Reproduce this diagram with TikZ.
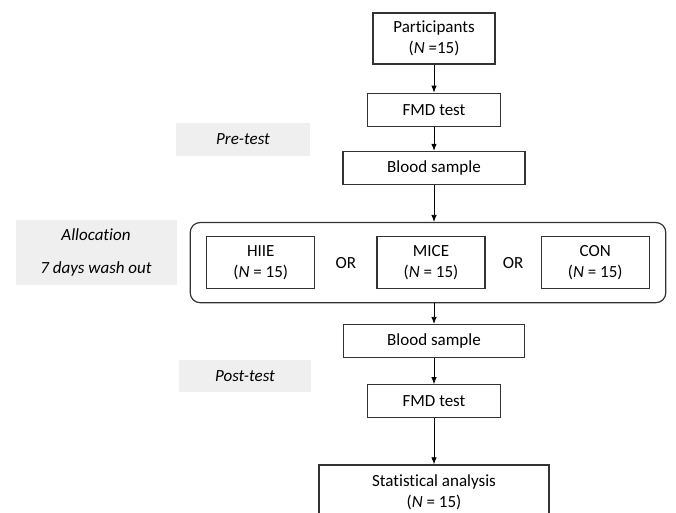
\documentclass[tikz,border=0pt]{standalone}
\usepackage{fontspec}
\setmainfont{Carlito}[Ligatures=NoCommon]
\usetikzlibrary{arrows.meta,positioning,fit}
\definecolor{phasegray}{HTML}{EFEFEF}
\definecolor{boxline}{HTML}{333333}

\begin{document}
\begin{tikzpicture}[
    x=1pt, y=1pt,
    node distance=26pt,
    box/.style={draw=boxline, line width=1.2pt, minimum height=33pt,
                inner sep=2pt, align=center,
                font=\fontsize{17}{20.5}\selectfont},
    arm/.style={box, minimum width=108pt, minimum height=52pt},
    phase/.style={fill=phasegray, minimum height=33pt, align=center,
                  font=\fontsize{17}{20.5}\selectfont\itshape},
    arrow/.style={-{Latex[length=7pt,width=5.5pt]}, line width=0.8pt},
]
\useasboundingbox (0,0) rectangle (676,-512);
\clip (0,0) rectangle (676,-512);

\node[box, minimum width=122pt, minimum height=51pt] (part) at (434,-38.5)
      {Participants\\(\textit{N} =15)};
\node[box, minimum width=133pt, below=28pt of part] (fmd1) {FMD test};
\node[box, minimum width=182pt, below=24pt of fmd1] (blood1) {Blood sample};

% three exercise conditions
\node[arm, below=51pt of blood1, xshift=-3pt] (mice) {MICE\\(\textit{N} = 15)};
\node[arm, left=61pt of mice] (hiie) {HIIE\\(\textit{N} = 15)};
\node[arm, right=55pt of mice] (con) {CON\\(\textit{N} = 15)};
\path (hiie) -- node[font=\fontsize{17}{20.5}\selectfont] (or1) {OR} (mice);
\path (mice) -- node[font=\fontsize{17}{20.5}\selectfont] (or2) {OR} (con);
\node[draw=boxline, line width=1.2pt, rounded corners=10pt,
      inner xsep=16pt, inner ysep=13.5pt, fit=(hiie)(con)] (grp) {};

\node[box, minimum width=181pt] (blood2) at (434,-341) {Blood sample};
\node[box, minimum width=133pt, below=26pt of blood2] (fmd2) {FMD test};
\node[box, minimum width=230pt, minimum height=55pt, below=46pt of fmd2]
      (stat) {Statistical analysis\\(\textit{N} = 15)};

% phase labels
\node[phase, minimum width=134pt] (pre) at (243,-139.5) {Pre-test};
\node[phase, minimum width=161pt, minimum height=65pt] (alloc) at (96,-252.5)
      {Allocation\\[13pt]7 days wash out};
\node[phase, minimum width=132pt, minimum height=32pt] (post) at (245,-376)
      {Post-test};

\draw[arrow] (part) -- (fmd1);
\draw[arrow] (fmd1) -- (blood1);
\draw[arrow] (blood1.south) -- (blood1.south |- grp.north);
\draw[arrow] (blood2.north |- grp.south) -- (blood2.north);
\draw[arrow] (blood2) -- (fmd2);
\draw[arrow] (fmd2) -- (stat);
\end{tikzpicture}
\end{document}
